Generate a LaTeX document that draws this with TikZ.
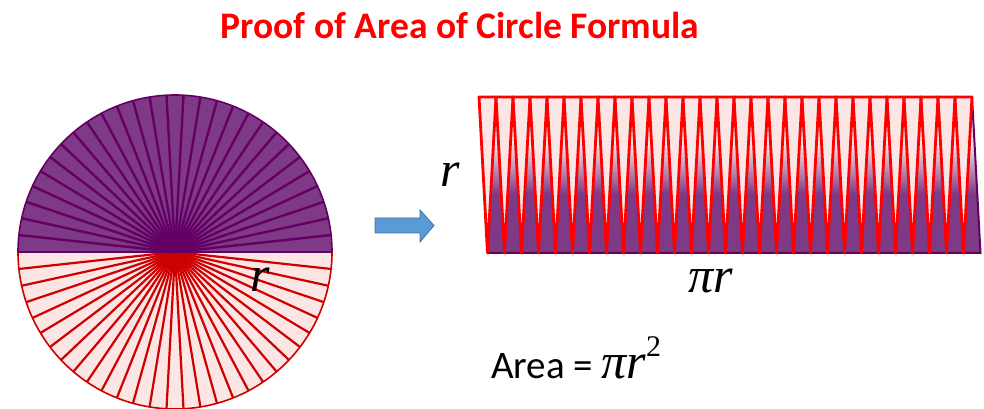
\documentclass[tikz,border=0pt]{standalone}
\usepackage{fontspec}
\newfontfamily\calfont{Carlito}
\newfontfamily\tnrfont{Liberation Serif}
\usetikzlibrary{positioning}
\definecolor{clrPu}{RGB}{126,58,134}
\definecolor{clrPuD}{RGB}{100,0,100}
\definecolor{clrPk}{RGB}{252,229,229}
\definecolor{clrR}{RGB}{206,0,0}
\definecolor{clrRB}{RGB}{255,0,0}
\definecolor{clrA}{RGB}{91,155,213}
\definecolor{clrAD}{RGB}{65,113,156}
\pgfdeclareverticalshading{tooth}{100bp}{color(0bp)=(clrPu); color(25bp)=(clrPu);
  color(44bp)=(clrPu); color(60bp)=(clrPk); color(100bp)=(clrPk)}
\tikzset{
  heading/.style={font=\calfont\bfseries\fontsize{37.5}{40}\selectfont,text=clrRB,
    inner sep=0pt,anchor=base},
  sym/.style={font=\tnrfont\itshape\fontsize{50}{50}\selectfont,inner sep=0pt,anchor=base},
  spokeP/.style={draw=clrPuD,line width=2.4pt},
  spokeR/.style={draw=clrR,line width=2.2pt},
  toothR/.style={draw=clrRB,fill=clrPk,line width=2.8pt,line join=round},
  blockarrow/.style={draw=clrAD,fill=clrA,line width=0.8pt}
}
\begin{document}
\begin{tikzpicture}[x=1pt,y=1pt]
  \useasboundingbox (0,0) rectangle (984,409);
  \def\cx{175}
  \def\cy{157}
  \def\R{157}
  \def\n{29}
  \def\w{17}
  \node[heading] (title) at (460,370) {Proof of Area of Circle Formula};
  \fill[clrPu] (\cx+\R,\cy) arc (0:180:\R) -- cycle;
  \fill[clrPk] (\cx+\R,\cy) arc (0:-180:\R) -- cycle;
  \foreach \i in {0,...,\n}
    \draw[spokeR] (\cx,\cy) -- ++({-\i*180/\n}:\R);
  \foreach \i in {0,...,\n}
    \draw[spokeP] (\cx,\cy) -- ++({\i*180/\n}:\R);
  \draw[clrPuD,line width=1.6pt] (\cx+\R,\cy) arc (0:180:\R);
  \draw[clrR,line width=1.6pt] (\cx+\R,\cy) arc (0:-180:\R);
  \node[sym] (rCircle) at (260,117) {r};
  \draw[blockarrow] (375,191) -- (420,191) -- (420,199) -- (434,183.5)
    -- (420,167) -- (420,176) -- (375,176) -- cycle;
  \foreach \i in {0,...,28}
    \shade[shading=tooth] ({479+\w*(\i+1)},312) -- ({487.5+\w*\i},156)
      -- ({487.5+\w*(\i+1)},156) -- cycle;
  \draw[clrPuD,line width=2pt] (487.5,156) -- ({487.5+29*\w},156) -- ({479+29*\w},312);
  \foreach \i in {0,...,28}
    \draw[toothR] ({479+\w*\i},312) -- ({479+\w*(\i+1)},312)
      -- ({487.5+\w*\i},156) -- cycle;
  \node[sym] (rRect) at (450,222) {r};
  \node[sym] (piR) at (711,116) {πr};
  \node[sym,anchor=base west] (area) at (491,30)
    {{\calfont\upshape\fontsize{39}{40}\selectfont Area =}\,πr\raisebox{22pt}{\upshape\fontsize{30}{30}\selectfont 2}};
\end{tikzpicture}
\end{document}
